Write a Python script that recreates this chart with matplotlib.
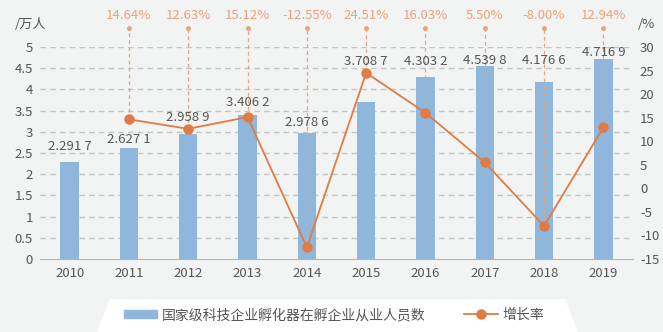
import numpy as np
import matplotlib.pyplot as plt
import matplotlib.patches as patches

plt.rcParams['font.family'] = ['Noto Sans CJK SC', 'DejaVu Sans']
plt.rcParams['axes.unicode_minus'] = False

years = ['2010', '2011', '2012', '2013', '2014', '2015', '2016', '2017', '2018', '2019']
staff = [2.2917, 2.6271, 2.9589, 3.4062, 2.9786, 3.7087, 4.3032, 4.5398, 4.1766, 4.7169]
staff_labels = ['2.291 7', '2.627 1', '2.958 9', '3.406 2', '2.978 6',
                '3.708 7', '4.303 2', '4.539 8', '4.176 6', '4.716 9']
growth = [14.64, 12.63, 15.12, -12.55, 24.51, 16.03, 5.50, -8.00, 12.94]
growth_labels = ['14.64%', '12.63%', '15.12%', '-12.55%', '24.51%',
                 '16.03%', '5.50%', '-8.00%', '12.94%']

# hand-placed heights of the value labels (left axis units)
label_pos = [2.66, 2.81, 3.33, 3.68, 3.21, 4.65, 4.65, 4.69, 4.67, 4.86]

bg = '#f2f3f3'
bar_c = '#8fb7db'
line_c = '#e07b45'
light_c = '#eba17a'
txt_c = '#555555'

fig = plt.figure(figsize=(6.63, 3.32), dpi=100, facecolor=bg)
ax = fig.add_axes([0.0603, 0.2199, 0.8945, 0.6386])
ax.set_facecolor(bg)
x = np.arange(len(years))

ax.bar(x, staff, width=0.31, color=bar_c, zorder=2)
ax.set_xlim(-0.5, 9.5)
ax.set_ylim(0, 5)
ax.set_yticks(np.arange(0, 5.01, 0.5))
ax.set_yticklabels(['0', '0.5', '1', '1.5', '2', '2.5', '3', '3.5', '4', '4.5', '5'])
ax.set_xticks(x)
ax.set_xticklabels(years)
for v in np.arange(0.5, 5.01, 0.5):
    ax.axhline(v, color='#c4c4c4', lw=1, ls=(0, (4, 3)), zorder=1)
for s in ['top', 'left', 'right']:
    ax.spines[s].set_visible(False)
ax.spines['bottom'].set_color('#b5b5b5')
ax.tick_params(length=0, labelsize=9.5, colors=txt_c)
ax.tick_params(axis='x', pad=6)
ax.tick_params(axis='y', pad=5)

ax2 = ax.twinx()
ax2.set_ylim(-15, 30)
ax2.set_yticks(np.arange(-15, 31, 5))
for s in ax2.spines.values():
    s.set_visible(False)
ax2.tick_params(length=0, labelsize=9.5, colors=txt_c, pad=5)

gx = x[1:]
ax2.plot(gx, growth, color=line_c, lw=1.3, marker='o', ms=6.5, zorder=5)
top = 34.0
for i, r, lab in zip(gx, growth, growth_labels):
    ax2.plot([i, i], [r, top], color=light_c, lw=0.9, ls=(0, (3, 2.5)),
             clip_on=False, zorder=4)
    ax2.plot(i, top, 'o', color=light_c, ms=2.5, clip_on=False)
    ax2.text(i, top + 1.2, lab, color=light_c, fontsize=9.5, ha='center',
             va='bottom', clip_on=False)

for i, yp, lab in zip(x, label_pos, staff_labels):
    ax2.text(i, yp / 5 * 45 - 15, lab, color=txt_c, fontsize=9.5,
             ha='center', va='center', zorder=6)

fig.text(15 / 663, 1 - 25 / 332, '/万人', color=txt_c, fontsize=9.5, va='center')
fig.text(638 / 663, 1 - 25 / 332, '/%', color=txt_c, fontsize=9.5, va='center')

# white legend band
poly = patches.Polygon([(97 / 663, 0), (110 / 663, 1 - 299 / 332),
                        (565 / 663, 1 - 299 / 332), (578 / 663, 0)],
                       closed=True, transform=fig.transFigure,
                       facecolor='white', edgecolor='none', zorder=0)
fig.patches.append(poly)

h1 = patches.Rectangle((0, 0), 1, 1, color=bar_c)
h2, = plt.plot([], [], color=line_c, marker='o', ms=6.5, lw=1.3)
leg = fig.legend([h1, h2], ['国家级科技企业孵化器在孵企业从业人员数', '增长率'],
                 loc='center', bbox_to_anchor=(334 / 663, 1 - 315 / 332), ncol=2,
                 frameon=False, fontsize=10, handlelength=2.4, handleheight=0.55,
                 columnspacing=2.8, handletextpad=0.35)
for t in leg.get_texts():
    t.set_color(txt_c)

fig.savefig('out.png', dpi=100, facecolor=bg)
